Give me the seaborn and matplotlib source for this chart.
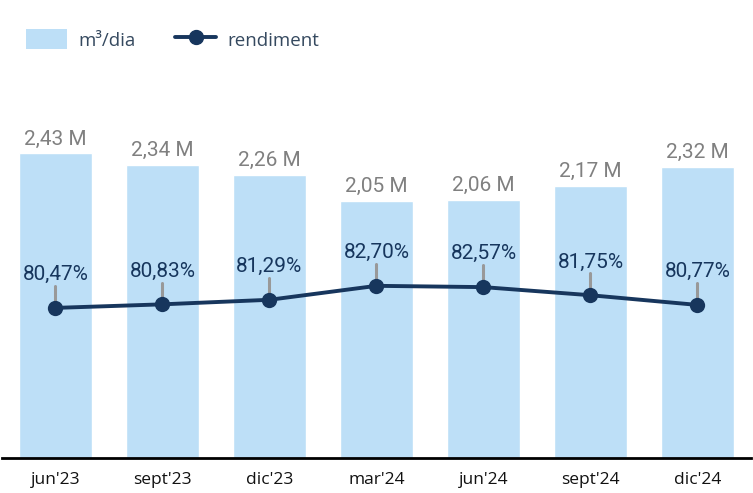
import numpy as np
import pandas as pd
import seaborn as sns
import matplotlib
matplotlib.use('Agg')
import matplotlib.pyplot as plt
from matplotlib.patches import Patch
from matplotlib.lines import Line2D

periods = ["jun'23", "sept'23", "dic'23", "mar'24", "jun'24", "sept'24", "dic'24"]
volume = [2.43, 2.34, 2.26, 2.05, 2.06, 2.17, 2.32]
rendiment = [80.47, 80.83, 81.29, 82.70, 82.57, 81.75, 80.77]

bar_color = '#bddff7'
line_color = '#17365d'
label_grey = '#808080'

sns.set_theme(style='white')
plt.rcParams['font.family'] = ['Roboto', 'DejaVu Sans']

df = pd.DataFrame({'period': periods, 'volume': volume, 'rendiment': rendiment})

fig = plt.figure(figsize=(7.53, 4.93), dpi=100)
ax = fig.add_axes([2 / 753, 35 / 493, 749 / 753, 376 / 493])

sns.barplot(data=df, x='period', y='volume', color=bar_color, width=0.69,
            saturation=1, ax=ax)
ax.set_ylim(0, 3.0)
ax.set_xlim(-0.5, 6.5)
for i, v in enumerate(volume):
    ax.text(i, v + 0.04, f'{v:.2f} M'.replace('.', ','), ha='center', va='bottom',
            fontsize=15, color=label_grey)

ax2 = ax.twinx()
x = np.arange(len(periods))
sns.lineplot(x=x, y=rendiment, ax=ax2, color=line_color, linewidth=2.8,
             marker='o', markersize=11, markeredgewidth=0)
ax2.set_ylim(65.3, 103.3)
for i, r in enumerate(rendiment):
    ax2.plot([i, i], [r + 0.7, r + 2.2], color='#999999', linewidth=2.2, zorder=1)
    ax2.text(i, r + 2.4, f'{r:.2f}%'.replace('.', ','), ha='center', va='bottom',
             fontsize=15, color=line_color)

for a in (ax, ax2):
    a.set_ylabel('')
    a.set_xlabel('')
    a.set_yticks([])
    for s in ['top', 'right', 'left']:
        a.spines[s].set_visible(False)
ax2.spines['bottom'].set_visible(False)
ax.spines['bottom'].set_color('black')
ax.spines['bottom'].set_linewidth(2)
ax.tick_params(axis='x', length=0, pad=10)
for lbl in ax.get_xticklabels():
    lbl.set_fontfamily(['Open Sans', 'DejaVu Sans'])
    lbl.set_fontsize(12.5)
    lbl.set_color('#111111')

handles = [Patch(facecolor=bar_color, edgecolor='none'),
           Line2D([0], [0], color=line_color, linewidth=2.8, marker='o', markersize=10)]
leg = fig.legend(handles, ['m³/dia', 'rendiment'], loc='upper left',
                 bbox_to_anchor=(26 / 753, 1 - 29 / 493), ncol=2, frameon=False,
                 borderpad=0, borderaxespad=0,
                 handlelength=2.2, handleheight=1.3, handletextpad=0.6,
                 columnspacing=2.1,
                 prop={'family': ['Open Sans', 'DejaVu Sans'], 'size': 13.5,
                       'weight': 'medium'})
for t in leg.get_texts():
    t.set_color('#35495f')

fig.savefig('out.png', dpi=100)
